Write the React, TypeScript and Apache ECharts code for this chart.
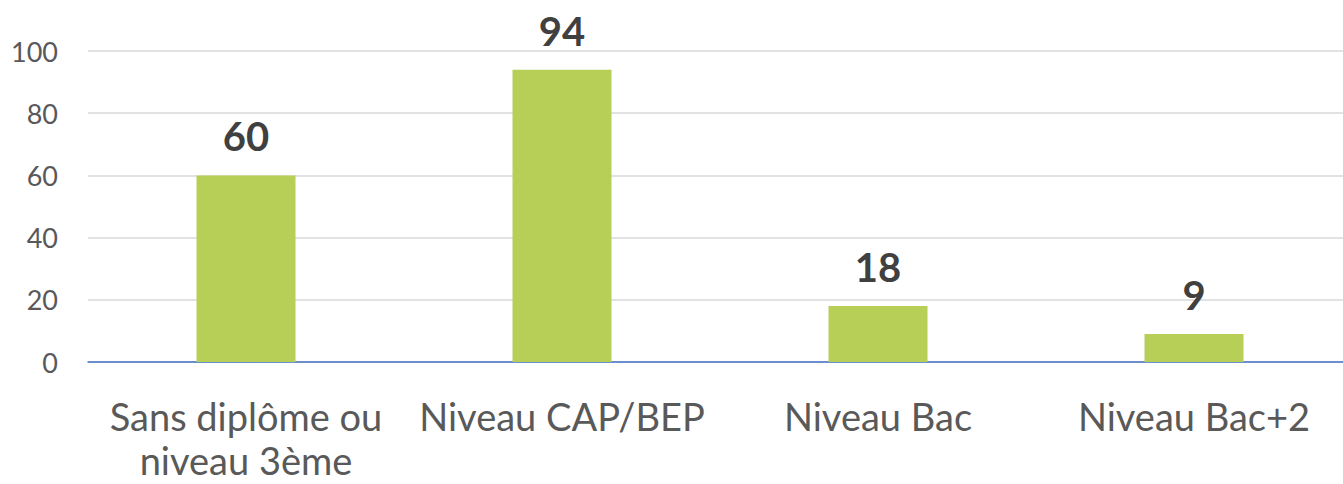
import React, { useEffect, useRef } from "react";
import * as echarts from "echarts";

const categories = ["Sans diplôme ou\nniveau 3ème", "Niveau CAP/BEP", "Niveau Bac", "Niveau Bac+2"];
const values = [60, 94, 18, 9];
const yTicks = { min: 0, max: 100, interval: 20 };

export default function App() {
  const ref = useRef<HTMLDivElement>(null);
  useEffect(() => {
    document.body.style.margin = "0";
    const chart = echarts.init(ref.current!, null, { renderer: "svg" });
    chart.setOption({
      animation: false,
      textStyle: { fontFamily: "Lato" },
      grid: { left: 88, right: 0, top: 51, bottom: 122, containLabel: false },
      xAxis: {
        type: "category",
        data: categories,
        axisLine: { show: true, lineStyle: { color: "#4472C4", width: 1.5 } },
        axisTick: { show: false },
        axisLabel: {
          color: "#595959",
          fontSize: 38,
          fontFamily: "Lato",
          lineHeight: 44,
          margin: 32,
          interval: 0,
        },
      },
      yAxis: {
        type: "value",
        min: yTicks.min,
        max: yTicks.max,
        interval: yTicks.interval,
        axisLine: { show: false },
        axisTick: { show: false },
        splitLine: { lineStyle: { color: "#D9D9D9", width: 1.5 } },
        axisLabel: { color: "#595959", fontSize: 27, fontFamily: "Lato", margin: 30 },
      },
      series: [
        {
          type: "bar",
          data: values,
          barWidth: 99,
          itemStyle: { color: "#B8CF57" },
          label: {
            show: true,
            position: "top",
            distance: 19,
            color: "#404040",
            fontSize: 40,
            fontWeight: "bold",
            fontFamily: "Lato",
          },
        },
      ],
    });
    return () => chart.dispose();
  }, []);
  return (
    <div style={{ width: 1343, height: 484, overflow: "hidden" }}>
      <div ref={ref} style={{ width: 1352, height: 484 }} />
    </div>
  );
}
